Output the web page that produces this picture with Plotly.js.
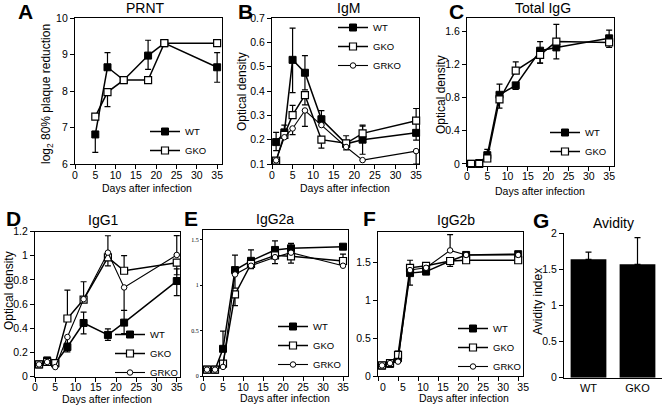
<!DOCTYPE html>
<html>
<head>
<meta charset="utf-8">
<script src="https://cdn.plot.ly/plotly-3.0.1.min.js"></script>
<style>
  html, body { margin: 0; padding: 0; background: #fff; }
  #chart { width: 664px; height: 406px; }
</style>
</head>
<body>
<div id="chart"></div>
<script>
// ---- data ----
const days     = [1, 3, 5, 8, 12, 18, 22, 35];
const prntDays = [5, 8, 12, 18, 22, 35];

// A: PRNT (log2 80% plaque reduction)
const prntWT    = [6.81, 8.65, 8.30, 8.97, 9.31, 8.65];
const prntWTUp  = [0, 0.40, 0, 0.42, 0, 0.40];
const prntWTDn  = [0.49, 0, 0, 0.38, 0, 0.41];
const prntGKO   = [7.30, 7.97, 8.30, 8.30, 9.31, 9.31];
const prntGKOUp = [0, 0, 0, 0, 0, 0];
const prntGKODn = [0, 0.40, 0, 0, 0, 0];

// B: IgM
const igmWT     = [0.19, 0.23, 0.528, 0.475, 0.284, 0.183, 0.20, 0.228];
const igmWTUp   = [0.04, 0.03, 0.13, 0.07, 0.035, 0.033, 0.06, 0.05];
const igmWTDn   = [0.035, 0, 0.135, 0.07, 0, 0.025, 0.06, 0.03];
const igmGKO    = [0.114, 0.22, 0.301, 0.383, 0.20, 0.185, 0.226, 0.278];
const igmGKOUp  = [0, 0, 0.04, 0, 0, 0, 0.03, 0.05];
const igmGKODn  = [0, 0, 0, 0.04, 0.035, 0, 0, 0];
const igmGRKO   = [0.115, 0.21, 0.246, 0.32, 0.26, 0.17, 0.116, 0.153];
const igmGRKOUp = [0, 0, 0, 0, 0, 0, 0, 0];
const igmGRKODn = [0, 0, 0.025, 0.065, 0, 0, 0, 0.053];

// C: Total IgG
const iggWT     = [0.0, 0.01, 0.105, 0.836, 0.95, 1.37, 1.41, 1.52];
const iggWTUp   = [0, 0, 0.07, 0.13, 0, 0.11, 0, 0.10];
const iggWTDn   = [0, 0, 0, 0, 0.05, 0.15, 0.14, 0];
const iggGKO    = [0.0, 0.0, 0.065, 0.78, 1.13, 1.32, 1.48, 1.47];
const iggGKOUp  = [0, 0, 0, 0, 0.105, 0, 0.21, 0];
const iggGKODn  = [0, 0, 0, 0.105, 0, 0.10, 0, 0.06];

// D: IgG1
const g1WT      = [0.10, 0.133, 0.11, 0.244, 0.443, 0.344, 0.446, 0.79];
const g1WTUp    = [0, 0, 0, 0, 0.09, 0.05, 0.10, 0.10];
const g1WTDn    = [0, 0, 0, 0.04, 0.09, 0.045, 0.09, 0.12];
const g1GKO     = [0.10, 0.12, 0.11, 0.48, 0.637, 0.986, 0.875, 0.942];
const g1GKOUp   = [0, 0, 0, 0.235, 0.147, 0, 0.125, 0];
const g1GKODn   = [0, 0, 0, 0, 0, 0.07, 0, 0.10];
const g1GRKO    = [0.10, 0.12, 0.078, 0.327, 0.64, 1.025, 0.737, 1.006];
const g1GRKOUp  = [0, 0, 0, 0, 0, 0.14, 0, 0.16];
const g1GRKODn  = [0, 0, 0, 0.05, 0, 0, 0.19, 0];

// E: IgG2a
const g2aWT     = [0.07, 0.07, 0.30, 1.168, 1.27, 1.39, 1.408, 1.426];
const g2aWTUp   = [0, 0, 0.195, 0.165, 0.12, 0.10, 0.055, 0];
const g2aWTDn   = [0, 0, 0, 0, 0, 0, 0, 0];
const g2aGKO    = [0.07, 0.07, 0.136, 0.90, 1.235, 1.33, 1.32, 1.268];
const g2aGKOUp  = [0, 0, 0, 0, 0, 0, 0, 0.075];
const g2aGKODn  = [0, 0, 0, 0.125, 0.05, 0.09, 0.075, 0];
const g2aGRKO   = [0.07, 0.07, 0.10, 1.12, 1.216, 1.31, 1.36, 1.216];
const g2aGRKOUp = [0, 0, 0, 0, 0, 0, 0, 0];
const g2aGRKODn = [0, 0, 0, 0.15, 0, 0, 0, 0];

// F: IgG2b
const g2bWT     = [0.137, 0.16, 0.234, 1.36, 1.38, 1.52, 1.60, 1.61];
const g2bWTUp   = [0, 0, 0, 0, 0, 0, 0, 0];
const g2bWTDn   = [0, 0, 0, 0.16, 0, 0.07, 0, 0];
const g2bGKO    = [0.14, 0.17, 0.278, 1.43, 1.456, 1.52, 1.53, 1.53];
const g2bGKOUp  = [0, 0, 0.05, 0.10, 0, 0, 0, 0];
const g2bGKODn  = [0, 0, 0, 0, 0, 0, 0, 0];
const g2bGRKO   = [0.14, 0.17, 0.19, 1.40, 1.43, 1.66, 1.60, 1.60];
const g2bGRKOUp = [0, 0, 0, 0, 0, 0.21, 0, 0];
const g2bGRKODn = [0, 0, 0, 0, 0, 0, 0, 0];

// G: avidity
const avidityGroups = ["WT", "GKO"];
const avidity       = [1.64, 1.57];
const avidityErr    = [0.10, 0.37];

// ---- layout helpers (pixel -> paper) ----
const W = 664, H = 406;
const px = (x) => x / W;
const py = (y) => 1 - y / H;
const FONT = "Arial, 'Liberation Sans', Helvetica, sans-serif";

const STYLE = {
    WT:   { symbol: "square", size: 7, color: "black", lw: 1.5, mlw: 1 },
    GKO:  { symbol: "square", size: 7, color: "white", lw: 1.5, mlw: 1.2 },
    GRKO: { symbol: "circle", size: 5.5, color: "white", lw: 1.1, mlw: 1 },
};

function series(n, name, x, y, up, dn) {
    const s = STYLE[name];
    const sfx = n === 1 ? "" : String(n);
    return {
        type: "scatter", mode: "lines+markers",
        x, y, name,
        xaxis: "x" + sfx, yaxis: "y" + sfx,
        legend: "legend" + sfx,
        line: { color: "black", width: s.lw },
        marker: { symbol: s.symbol, size: s.size, color: s.color,
                  line: { color: "black", width: s.mlw } },
        error_y: { type: "data", symmetric: false, array: up, arrayminus: dn,
                   color: "black", thickness: 1.2, width: 3 },
        cliponaxis: false,
        hoverinfo: "skip",
    };
}

const traces = [
    series(1, "WT", prntDays, prntWT, prntWTUp, prntWTDn),
    series(1, "GKO", prntDays, prntGKO, prntGKOUp, prntGKODn),

    series(2, "WT", days, igmWT, igmWTUp, igmWTDn),
    series(2, "GKO", days, igmGKO, igmGKOUp, igmGKODn),
    series(2, "GRKO", days, igmGRKO, igmGRKOUp, igmGRKODn),

    series(3, "WT", days, iggWT, iggWTUp, iggWTDn),
    series(3, "GKO", days, iggGKO, iggGKOUp, iggGKODn),

    series(4, "WT", days, g1WT, g1WTUp, g1WTDn),
    series(4, "GKO", days, g1GKO, g1GKOUp, g1GKODn),
    series(4, "GRKO", days, g1GRKO, g1GRKOUp, g1GRKODn),

    series(5, "WT", days, g2aWT, g2aWTUp, g2aWTDn),
    series(5, "GKO", days, g2aGKO, g2aGKOUp, g2aGKODn),
    series(5, "GRKO", days, g2aGRKO, g2aGRKOUp, g2aGRKODn),

    series(6, "WT", days, g2bWT, g2bWTUp, g2bWTDn),
    series(6, "GKO", days, g2bGKO, g2bGKOUp, g2bGKODn),
    series(6, "GRKO", days, g2bGRKO, g2bGRKOUp, g2bGRKODn),

    {
        type: "bar", x: avidityGroups, y: avidity,
        xaxis: "x7", yaxis: "y7", showlegend: false,
        marker: { color: "black", line: { width: 0 } },
        error_y: { type: "data", symmetric: false, array: avidityErr,
                   arrayminus: [0, 0], color: "black", thickness: 1.2, width: 3 },
        hoverinfo: "skip",
    },
];

// plot boxes in pixels: [left, right, top, bottom]
const BOX = {
    1: [75, 222, 18, 164],
    2: [272, 419, 18, 164],
    3: [467, 614, 18, 165.5],
    4: [35, 180, 231.5, 376.5],
    5: [203, 348, 230, 376],
    6: [378, 523, 231.5, 376],
    7: [564, 662, 233.3, 377.7],
};

const AX = {
    showline: true, linecolor: "black", linewidth: 1.3,
    ticks: "outside", ticklen: 4, tickwidth: 1, tickcolor: "black",
    showgrid: false, zeroline: false, fixedrange: true,
    tickfont: { family: FONT, size: 10.5, color: "black" },
};

function xax(n, range, extra) {
    const b = BOX[n];
    return Object.assign({}, AX, {
        domain: [px(b[0]), px(b[1])], anchor: n === 1 ? "y" : "y" + n,
        range, mirror: true, tickvals: [0, 5, 10, 15, 20, 25, 30, 35],
        ticklabelstandoff: -3,
    }, extra || {});
}
function yax(n, range, tickvals, extra) {
    const b = BOX[n];
    return Object.assign({}, AX, {
        domain: [py(b[3]), py(b[2])], anchor: n === 1 ? "x" : "x" + n,
        range, mirror: true, tickvals,
    }, extra || {});
}

function legendAt(lineStartX, firstY) {
    return {
        x: px(lineStartX - 5), y: py(firstY - 14),
        xanchor: "left", yanchor: "top",
        bgcolor: "rgba(0,0,0,0)", borderwidth: 0,
        font: { family: FONT, size: 9.5, color: "black" },
        itemwidth: 30, tracegroupgap: 0,
    };
}

function note(text, x, y, size, extra) {
    return Object.assign({
        text, x: px(x), y: py(y), xref: "paper", yref: "paper",
        showarrow: false, xanchor: "center", yanchor: "middle",
        font: { family: FONT, size, color: "black" },
    }, extra || {});
}

const letter = (t, x, y) => note("<b>" + t + "</b>", x, y, 21);
const ytitle = (t, x, y, size) => note(t, x, y, size || 12, { textangle: -90 });

const annotations = [
    letter("A", 25, 12), letter("B", 245, 12), letter("C", 456, 12),
    letter("D", 14, 219), letter("E", 191, 219), letter("F", 369, 219),
    letter("G", 541, 221),

    note("PRNT", 145, 8, 14), note("IgM", 348, 8, 14), note("Total IgG", 543, 8, 14),
    note("IgG1", 103, 220, 14), note("IgG2a", 275, 219, 14),
    note("IgG2b", 456, 220, 14), note("Avidity", 613, 223, 14),

    note("Days after infection", 147, 188, 10.5),
    note("Days after infection", 345, 188, 10.5),
    note("Days after infection", 540, 191, 10.5),
    note("Days after infection", 107, 399, 10.5),
    note("Days after infection", 285, 398, 10.5),
    note("Days after infection", 464, 398, 10.5),

    ytitle("log<sub>2</sub> 80% plaque reduction", 47, 94),
    ytitle("Optical density", 242, 92),
    ytitle("Optical density", 441, 95),
    ytitle("Optical density", 9, 291),
    ytitle("Avidity index", 538, 302),
];

const layout = {
    width: W, height: H,
    margin: { t: 0, b: 0, l: 0, r: 0 },
    paper_bgcolor: "white", plot_bgcolor: "white",
    font: { family: FONT, color: "black" },
    bargap: 0.27,

    xaxis:  xax(1, [0, 36.2]),
    yaxis:  yax(1, [6, 10], [6, 7, 8, 9, 10]),
    xaxis2: xax(2, [0, 35.7]),
    yaxis2: yax(2, [0.1, 0.7], [0.1, 0.2, 0.3, 0.4, 0.5, 0.6, 0.7],
                { ticktext: ["0.1", "0.2", "0.3", "0.4", "0.5", "0.6", "0.7"] }),
    xaxis3: xax(3, [0, 36.2]),
    yaxis3: yax(3, [-0.02, 1.766], [0, 0.4, 0.8, 1.2, 1.6],
                { ticktext: ["0", "0.4", "0.8", "1.2", "1.6"] }),
    xaxis4: xax(4, [0, 35.8]),
    yaxis4: yax(4, [0, 1.2], [0, 0.2, 0.4, 0.6, 0.8, 1, 1.2],
                { ticktext: ["0", "0.2", "0.4", "0.6", "0.8", "1", "1.2"] }),
    xaxis5: xax(5, [0, 36.25]),
    yaxis5: yax(5, [0, 1.61], [0, 0.5, 1, 1.5],
                { ticktext: ["0", "0.5", "1", "1.5"], ticklen: 2,
                  tickfont: { family: "'Liberation Serif', 'DejaVu Serif', serif", size: 6, color: "black" } }),
    xaxis6: xax(6, [0, 36.2], { ticklabelshift: 5 }),
    yaxis6: yax(6, [0, 1.91], [0, 0.5, 1, 1.5],
                { ticktext: ["0", "0.5", "1", "1.5"] }),
    xaxis7: Object.assign({}, AX, {
        domain: [px(BOX[7][0]), px(BOX[7][1])], anchor: "y7",
        type: "category", range: [-0.5, 1.5], ticks: "", mirror: false,
        tickfont: { family: FONT, size: 11, color: "black" },
    }),
    yaxis7: yax(7, [0, 2], [0, 0.5, 1, 1.5, 2],
                { mirror: false, ticktext: ["0", "0.5", "1", "1.5", "2"] }),

    legend:  legendAt(150, 131),
    legend2: legendAt(338, 27),
    legend3: legendAt(550, 132),
    legend4: legendAt(115, 334),
    legend5: legendAt(278, 326),
    legend6: legendAt(458, 328),

    annotations,
};

Plotly.newPlot("chart", traces, layout, { displayModeBar: false, responsive: false });
</script>
</body>
</html>
